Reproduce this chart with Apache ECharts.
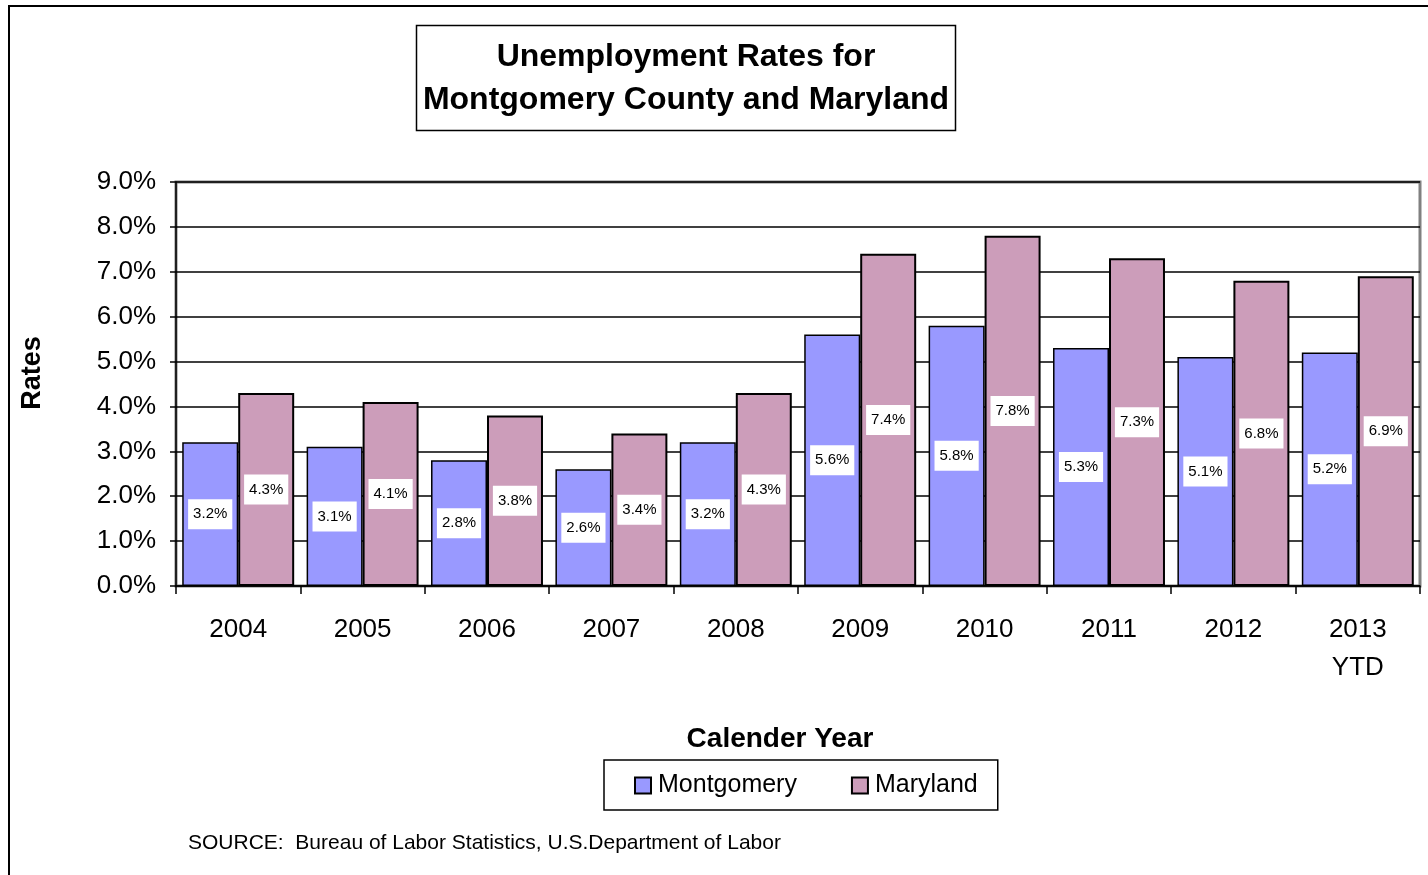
<!DOCTYPE html>
<html>
<head>
<meta charset="utf-8">
<script src="https://cdn.jsdelivr.net/npm/echarts@6/dist/echarts.min.js"></script>
<style>
  html, body { margin: 0; padding: 0; background: #fff; }
  #chart { width: 1428px; height: 875px; }
</style>
</head>
<body>
<div id="chart"></div>
<script>
var years = ['2004', '2005', '2006', '2007', '2008', '2009', '2010', '2011', '2012', '2013\nYTD'];
var montgomery = [3.2, 3.1, 2.8, 2.6, 3.2, 5.6, 5.8, 5.3, 5.1, 5.2];
var maryland = [4.3, 4.1, 3.8, 3.4, 4.3, 7.4, 7.8, 7.3, 6.8, 6.9];

var font = 'Arial, "Liberation Sans", sans-serif';
var myChart = echarts.init(document.getElementById('chart'));

var barLabel = {
  show: true,
  position: 'inside',
  formatter: function (p) { return p.value.toFixed(1) + '%'; },
  backgroundColor: '#fff',
  color: '#000',
  fontFamily: font,
  fontSize: 15,
  padding: [8, 5, 7, 5]
};

var option = {
  animation: false,
  backgroundColor: '#fff',
  textStyle: { fontFamily: font },
  graphic: [
    {
      type: 'rect',
      shape: { x: 9, y: 6, width: 1440, height: 900 },
      style: { fill: 'none', stroke: '#000', lineWidth: 2 }
    },
    {
      type: 'rect',
      shape: { x: 416.5, y: 25.5, width: 539, height: 105 },
      style: { fill: '#fff', stroke: '#000', lineWidth: 1.5 }
    },
    {
      type: 'text',
      x: 686, y: 79,
      style: {
        text: 'Unemployment Rates for\nMontgomery County and Maryland',
        textAlign: 'center', textVerticalAlign: 'middle',
        font: 'bold 32px ' + font, lineHeight: 43, fill: '#000'
      }
    },
    {
      type: 'text',
      x: 780, y: 739,
      style: {
        text: 'Calender Year',
        textAlign: 'center', textVerticalAlign: 'middle',
        font: 'bold 28px ' + font, fill: '#000'
      }
    },
    {
      type: 'text',
      x: 33, y: 373,
      rotation: Math.PI / 2,
      style: {
        text: 'Rates',
        textAlign: 'center', textVerticalAlign: 'middle',
        font: 'bold 27px ' + font, fill: '#000'
      }
    },
    {
      type: 'text',
      x: 188, y: 843,
      style: {
        text: 'SOURCE:  Bureau of Labor Statistics, U.S.Department of Labor',
        textVerticalAlign: 'middle',
        font: '21px ' + font, fill: '#000'
      }
    }
  ],
  legend: {
    data: ['Montgomery', 'Maryland'],
    icon: 'rect',
    left: 604, top: 760,
    padding: [13, 20, 12, 30],
    itemGap: 54,
    itemWidth: 16, itemHeight: 16,
    borderColor: '#000', borderWidth: 1.5,
    textStyle: { fontSize: 25, color: '#000', fontFamily: font, padding: [0, 0, 0, 2] }
  },
  grid: {
    left: 176, right: 8, top: 182, bottom: 289,
    show: true, borderColor: '#808080', borderWidth: 3
  },
  xAxis: {
    type: 'category',
    data: years,
    axisLine: { lineStyle: { color: '#000', width: 1.5 } },
    axisTick: { show: true, length: 8, lineStyle: { color: '#000', width: 1.5 } },
    axisLabel: { fontSize: 26, color: '#000', margin: 25, lineHeight: 38, fontFamily: font }
  },
  yAxis: {
    type: 'value',
    min: 0, max: 9, interval: 1,
    axisLine: { show: true, lineStyle: { color: '#000', width: 1.5 } },
    axisTick: { show: true, length: 6, lineStyle: { color: '#000', width: 1.5 } },
    axisLabel: {
      fontSize: 26, color: '#000', margin: 20, fontFamily: font,
      formatter: function (v) { return v.toFixed(1) + '%'; }
    },
    splitLine: { lineStyle: { color: '#000', width: 1.5 } }
  },
  series: [
    {
      name: 'Montgomery',
      type: 'bar',
      data: montgomery,
      barGap: '0%',
      barCategoryGap: '10%',
      itemStyle: { color: '#9999FF', borderColor: '#000', borderWidth: 1.5 },
      label: barLabel
    },
    {
      name: 'Maryland',
      type: 'bar',
      data: maryland,
      itemStyle: { color: '#CC9DBA', borderColor: '#000', borderWidth: 2 },
      label: barLabel
    }
  ]
};

option && myChart.setOption(option);
</script>
</body>
</html>
